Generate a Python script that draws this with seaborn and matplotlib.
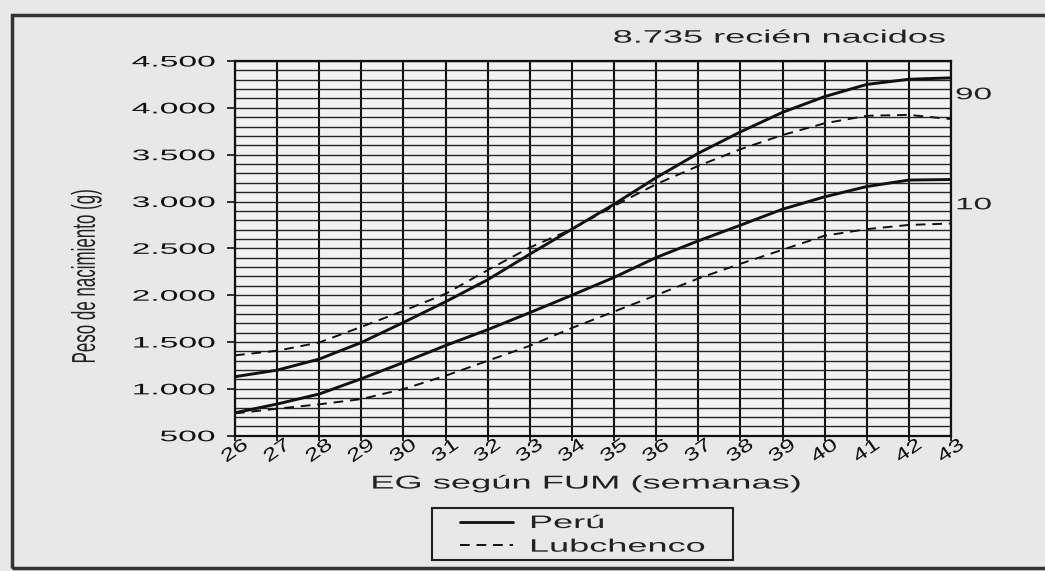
import numpy as np
import pandas as pd
import seaborn as sns
import matplotlib
matplotlib.use("Agg")
import matplotlib.pyplot as plt
from matplotlib.lines import Line2D
from matplotlib.patches import Rectangle
from matplotlib.patheffects import AbstractPathEffect
from matplotlib.transforms import Affine2D

# ---- data -------------------------------------------------------------
semanas = list(range(26, 44))
peru_p90 = [1130, 1200, 1318, 1495, 1709, 1930, 2165, 2438, 2705, 2971,
            3255, 3515, 3743, 3952, 4120, 4250, 4305, 4320]
peru_p10 = [745, 838, 945, 1108, 1282, 1463, 1632, 1814, 2000, 2190,
            2402, 2580, 2747, 2918, 3050, 3160, 3229, 3235]
lubchenco_p90 = [1358, 1407, 1495, 1662, 1833, 2015, 2268, 2509, 2705, 2953,
                 3185, 3380, 3558, 3710, 3835, 3915, 3925, 3880]
lubchenco_p10 = [738, 788, 835, 891, 998, 1140, 1300, 1460, 1650, 1825,
                 2000, 2178, 2335, 2485, 2635, 2705, 2750, 2765]

y_ticks = [500, 1000, 1500, 2000, 2500, 3000, 3500, 4000, 4500]
y_tick_labels = ["500", "1.000", "1.500", "2.000", "2.500",
                 "3.000", "3.500", "4.000", "4.500"]
x_tick_labels = [str(s) for s in semanas]
percentil_labels = ["90", "10"]
percentil_label_y = [4140, 2965]

fuentes = ["Perú", "Lubchenco"]
titulo = "8.735 recién nacidos"

# ---- styling ----------------------------------------------------------
sns.set_theme(style="white")
plt.rcParams["font.family"] = ["Liberation Sans", "DejaVu Sans"]

PAPER = "#e8e8e8"
PANEL = "#f2f2f2"
INK = "#111111"
DASH = (0, (5, 3.5))


class AnchorStretch(AbstractPathEffect):
    """Widen glyphs about the text's anchor point.

    By default the widening is horizontal on the page; with
    ``along_text=True`` it follows the text's own baseline direction.
    """

    def __init__(self, text, sx, along_text=False):
        super().__init__()
        self._text = text
        self._sx = sx
        self._along = along_text

    def draw_path(self, renderer, gc, tpath, affine, rgbFace=None):
        x0, y0 = self._text.get_transform().transform(
            self._text.get_unitless_position())
        ang = self._text.get_rotation() if self._along else 0.0
        widen = (Affine2D().translate(-x0, -y0).rotate_deg(-ang)
                 .scale(self._sx, 1).rotate_deg(ang).translate(x0, y0))
        renderer.draw_path(gc, tpath, affine + widen, rgbFace)


def widen(text, sx, along_text=False):
    text.set_path_effects([AnchorStretch(text, sx, along_text)])


# ---- long-form table --------------------------------------------------
rows = []
for fuente, (p90, p10) in zip(fuentes, [(peru_p90, peru_p10),
                                        (lubchenco_p90, lubchenco_p10)]):
    for pct, vals in ((90, p90), (10, p10)):
        for s, v in zip(semanas, vals):
            rows.append({"fuente": fuente, "percentil": pct,
                         "semana": s, "peso": v})
df = pd.DataFrame(rows)

# ---- figure -----------------------------------------------------------
W, H = 1045, 571
fig = plt.figure(figsize=(W / 100, H / 100), dpi=100, facecolor=PAPER)
ax = fig.add_axes([235 / W, 1 - 435.7 / H, (951 - 235) / W, (435.7 - 61) / H])
ax.set_facecolor(PANEL)

sns.lineplot(data=df[df.fuente == "Perú"], x="semana", y="peso",
             units="percentil", estimator=None, color=INK, lw=2.1,
             ax=ax, legend=False)
sns.lineplot(data=df[df.fuente == "Lubchenco"], x="semana", y="peso",
             units="percentil", estimator=None, color=INK, lw=1.4,
             linestyle=DASH, ax=ax, legend=False)

ax.set_xlim(26, 43)
ax.set_ylim(500, 4500)
ax.set_axisbelow(True)

ax.set_xticks(semanas)
ax.set_xticklabels(x_tick_labels, rotation=35, ha="center", va="center",
                   rotation_mode="anchor", fontsize=13)
ax.set_yticks(y_ticks)
ax.set_yticklabels(y_tick_labels, fontsize=11)
ax.set_yticks(np.arange(500, 4501, 100), minor=True)

ax.tick_params(axis="y", which="major", direction="out", length=6, width=1.2,
               pad=8, left=True, colors=INK)
ax.tick_params(axis="y", which="minor", length=0)
ax.tick_params(axis="x", direction="out", length=3.6, width=1.3, pad=7.6,
               bottom=True, colors=INK)

ax.grid(axis="y", which="both", color="#262626", lw=1.0)
ax.grid(axis="x", which="major", color=INK, lw=1.5)

for sp in ax.spines.values():
    sp.set_visible(True)
    sp.set_color(INK)
    sp.set_linewidth(1.6)

for t in ax.get_yticklabels():
    widen(t, 2.2)
for t in ax.get_xticklabels():
    widen(t, 1.4, along_text=True)

ax.set_xlabel("EG según FUM (semanas)", fontsize=13.4, va="center",
              color="#222222")
ax.xaxis.set_label_coords(0.490, -0.129)
widen(ax.xaxis.label, 1.95)

ax.set_ylabel("Peso de nacimiento (g)", fontsize=12.2, va="center",
              ha="center", color="#222222")
ax.yaxis.set_label_coords(-0.208, 0.426)
widen(ax.yaxis.label, 1.95)

t = ax.text(0.9916, 1.061, titulo, transform=ax.transAxes, ha="right",
            va="center", fontsize=13, color="#222222")
widen(t, 2.0)

for lab, yv in zip(percentil_labels, percentil_label_y):
    t = ax.text(1.0056, yv, lab, transform=ax.get_yaxis_transform(),
                ha="left", va="center", fontsize=12, color="#222222")
    widen(t, 2.0)

# ---- legend -----------------------------------------------------------
handles = [Line2D([], [], color=INK, lw=2.0),
           Line2D([], [], color=INK, lw=1.4, linestyle=DASH)]
leg = fig.legend(handles, fuentes, loc="upper left",
                 bbox_to_anchor=(460 / W, 1 - 515 / H), frameon=False,
                 fontsize=13, borderpad=0, borderaxespad=0,
                 handlelength=53 / 18.06, handletextpad=16 / 18.06,
                 labelspacing=0.37)
for t in leg.get_texts():
    t.set_color("#222222")
    widen(t, 2.0)
fig.patches.append(Rectangle((432 / W, 1 - 560 / H), 301 / W, 52 / H,
                             transform=fig.transFigure, fill=False,
                             ec="#222222", lw=1.5))

# outer frame
fig.patches.append(Rectangle((12 / W, 1 - 568 / H), 1200 / W, 553 / H,
                             transform=fig.transFigure, fill=False,
                             ec="#333333", lw=2.5))

fig.savefig("out.png", dpi=100, facecolor=PAPER)
